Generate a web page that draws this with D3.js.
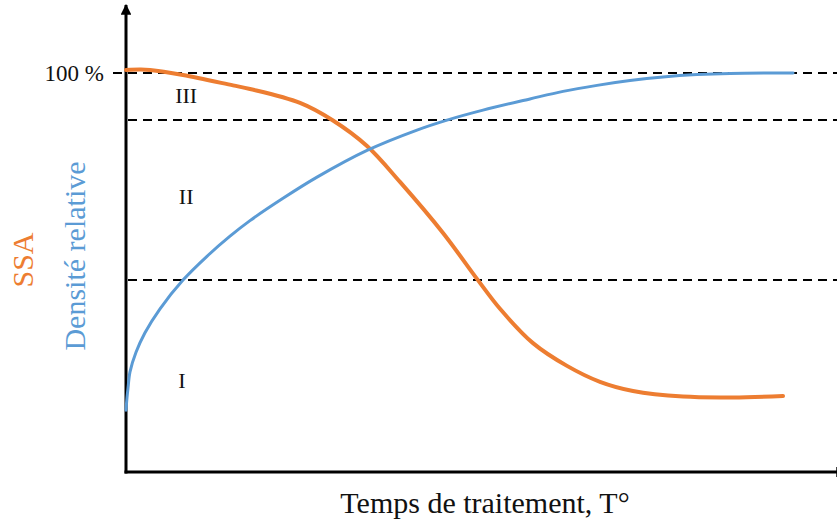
<!DOCTYPE html>
<html>
<head>
<meta charset="utf-8">
<script src="https://cdn.jsdelivr.net/npm/d3@7"></script>
<style>
  body { margin: 0; background: #fff; }
  text { font-family: "Liberation Serif", "Times New Roman", serif; }
</style>
</head>
<body>
<div id="chart"></div>
<script>
// sketch values (time in arbitrary units, y in %)
var densiteT = [0, 0.14, 0.29, 0.57, 1.43, 2.71, 4.86, 8.14, 11.53, 14.86, 17.71, 22.43, 27.29, 34.43, 41.57, 45.86, 51.0, 57.71, 62.43, 67.29, 72.0, 76.71, 81.57, 86.29, 95.29];
var densite  = [15.5, 18.6, 21.1, 25.1, 30.0, 34.9, 40.9, 48.1, 54.0, 59.1, 63.0, 68.6, 73.9, 80.6, 85.7, 88.2, 90.7, 93.5, 95.4, 96.9, 98.1, 99.0, 99.6, 99.9, 100];

var ssaT = [0, 2.0, 3.43, 8.14, 15.29, 17.71, 24.86, 29.57, 34.43, 39.14, 45.29, 50.14, 53.43, 58.14, 63.0, 67.71, 72.43, 79.57, 86.71, 93.86];
var ssa  = [100.75, 100.85, 100.75, 99.5, 96.9, 96.0, 92.5, 88.1, 81.7, 72.7, 59.9, 48.4, 40.9, 32.3, 26.6, 22.6, 20.3, 18.9, 18.7, 19.05];

var zoneLimits = [100, 88.2, 48.1];
var zoneLabels = ["III", "II", "I"];
var zoneLabelY = [92.4, 67.2, 21.1];
var zoneLabelX = [8.6, 8.6, 8.0];

var w = 837, h = 532;

var x = d3.scaleLinear().domain([0, 100]).range([126, 826]);
var y = d3.scaleLinear().domain([0, 100]).range([472, 73]);

var svg = d3.select("#chart")
  .append("svg")
  .attr("width", w)
  .attr("height", h);

var defs = svg.append("defs");
defs.append("marker")
  .attr("id", "arrow")
  .attr("viewBox", "0 0 10 10")
  .attr("refX", 9)
  .attr("refY", 5)
  .attr("markerWidth", 3.6)
  .attr("markerHeight", 3.6)
  .attr("markerUnits", "strokeWidth")
  .attr("orient", "auto")
  .append("path")
  .attr("d", "M0,0 L10,5 L0,10 Z")
  .attr("fill", "#000");

// dashed zone limits
svg.selectAll("line.zone")
  .data(zoneLimits)
  .enter().append("line")
  .attr("class", "zone")
  .attr("x1", function (d, i) { return i == 0 ? 113 : x(0) + 2; })
  .attr("x2", w)
  .attr("y1", function (d) { return y(d); })
  .attr("y2", function (d) { return y(d); })
  .attr("stroke", "#000")
  .attr("stroke-width", 2)
  .attr("stroke-dasharray", "9,6");

// axes with arrows
svg.append("line")
  .attr("x1", x(0)).attr("y1", y(0) + 1.5)
  .attr("x2", x(0)).attr("y2", 5)
  .attr("stroke", "#000").attr("stroke-width", 3)
  .attr("marker-end", "url(#arrow)");

svg.append("line")
  .attr("x1", x(0) - 1.5).attr("y1", y(0))
  .attr("x2", 846).attr("y2", y(0))
  .attr("stroke", "#000").attr("stroke-width", 3)
  .attr("marker-end", "url(#arrow)");

var line = d3.line()
  .x(function (d) { return x(d[0]); })
  .y(function (d) { return y(d[1]); })
  .curve(d3.curveCatmullRom.alpha(0.5));

svg.append("path")
  .datum(d3.zip(ssaT, ssa))
  .attr("d", line)
  .attr("fill", "none")
  .attr("stroke", "#ED7D31")
  .attr("stroke-width", 4)
  .attr("stroke-linecap", "round");

svg.append("path")
  .datum(d3.zip(densiteT, densite))
  .attr("d", line)
  .attr("fill", "none")
  .attr("stroke", "#5B9BD5")
  .attr("stroke-width", 3)
  .attr("stroke-linecap", "round");

// zone numerals
svg.selectAll("text.zonelabel")
  .data(zoneLabels)
  .enter().append("text")
  .attr("class", "zonelabel")
  .attr("x", function (d, i) { return x(zoneLabelX[i]); })
  .attr("y", function (d, i) { return y(zoneLabelY[i]); })
  .attr("text-anchor", "middle")
  .attr("font-size", 22)
  .attr("fill", "#111")
  .text(function (d) { return d; });

svg.append("text")
  .attr("x", 104)
  .attr("y", y(100) + 8)
  .attr("text-anchor", "end")
  .attr("font-size", 23)
  .attr("fill", "#111")
  .text("100 %");

svg.append("text")
  .attr("transform", "translate(33,260) rotate(-90)")
  .attr("text-anchor", "middle")
  .attr("font-size", 30)
  .attr("fill", "#ED7D31")
  .text("SSA");

svg.append("text")
  .attr("transform", "translate(85,256) rotate(-90)")
  .attr("text-anchor", "middle")
  .attr("font-size", 30)
  .attr("fill", "#5B9BD5")
  .text("Densité relative");

svg.append("text")
  .attr("x", 485)
  .attr("y", 513)
  .attr("text-anchor", "middle")
  .attr("font-size", 30)
  .attr("fill", "#111")
  .text("Temps de traitement, T°");
</script>
</body>
</html>
